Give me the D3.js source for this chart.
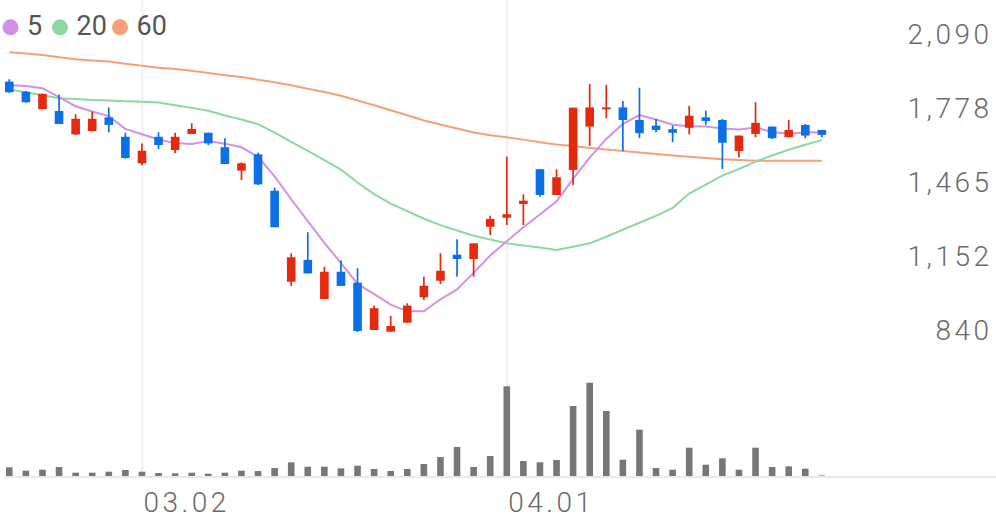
<!DOCTYPE html>
<html><head><meta charset="utf-8">
<script src="https://cdn.jsdelivr.net/npm/d3@7"></script>
<style>
body{margin:0;background:#fff;}
svg{display:block;font-family:Roboto,"Noto Sans",sans-serif;}
</style></head>
<body><svg id="c" width="996" height="519"></svg>
<script>
const dates = ["02.19","02.20","02.21","02.24","02.25","02.26","02.27","02.28","03.02","03.03","03.04","03.05","03.06","03.09","03.10","03.11","03.12","03.13","03.16","03.17","03.18","03.19","03.20","03.23","03.24","03.25","03.26","03.27","03.30","03.31","04.01","04.02","04.03","04.06","04.07","04.08","04.09","04.10","04.13","04.14","04.16","04.17","04.20","04.21","04.22","04.23","04.24","04.27","04.28","04.29"];
const openP  = [1965,1922,1849,1841,1742,1756,1814,1732,1620,1732,1676,1744,1749,1688,1589,1658,1504,1120,1212,1047,1162,1116,916,909,947,1054,1124,1234,1216,1352,1390,1448,1595,1486,1592,1775,1848,1856,1803,1779,1764,1770,1814,1803,1672,1744,1775,1730,1782,1761];
const highP  = [1975,1925,1915,1911,1827,1838,1856,1749,1704,1751,1749,1789,1750,1726,1624,1665,1517,1240,1329,1183,1209,1177,1019,976,1029,1141,1240,1299,1282,1399,1648,1489,1595,1595,1855,1955,1951,1883,1939,1807,1779,1863,1842,1807,1737,1878,1775,1803,1786,1761];
const lowP   = [1918,1876,1847,1786,1740,1754,1751,1640,1612,1680,1662,1744,1697,1617,1550,1528,1350,1102,1155,1047,1102,908,916,909,947,1043,1110,1141,1141,1317,1359,1359,1479,1486,1528,1693,1810,1672,1726,1751,1709,1742,1782,1596,1645,1730,1723,1730,1726,1730];
const closeP = [1920,1878,1913,1786,1808,1808,1782,1642,1673,1697,1732,1765,1704,1617,1620,1531,1350,1223,1155,1162,1102,912,1008,933,1019,1103,1166,1216,1282,1385,1405,1462,1486,1561,1855,1856,1856,1803,1747,1761,1749,1821,1799,1707,1737,1791,1726,1761,1737,1740];
const volume = [435,265,315,450,165,165,215,300,215,150,135,165,115,165,265,250,400,685,465,465,385,515,350,250,350,600,950,1450,450,1000,4485,750,685,800,3500,4665,3250,815,2315,400,315,1415,565,885,315,1415,450,485,365,65];
const ma5  = [1951,1946,1937,1899,1861,1838.6,1819.4,1765.2,1742.6,1720.4,1705.2,1701.8,1714.2,1703,1687.6,1647.4,1564.4,1468.2,1375.8,1284.2,1198.4,1110.8,1067.8,1023.4,994.8,995,1045.8,1087.4,1157.2,1230.4,1290.8,1350,1404,1459.8,1553.8,1644,1722.8,1786.2,1823.4,1804.6,1783.2,1776.2,1775.4,1767.4,1762.6,1771,1752,1744.4,1750.4,1751];
const ma20 = [1932,1920,1907,1895,1891,1887,1885,1882,1880,1877,1865,1854,1842,1822,1805,1785,1750,1710,1672,1633,1593,1539,1490,1450,1418,1386,1359,1336,1314,1298,1282,1273,1264,1254,1268,1282,1310,1340,1369,1398,1432,1492,1530,1568,1596,1627,1653,1677,1698,1718];
const ma60 = [2089,2084,2077,2068,2059,2054,2050,2040,2032,2023,2018,2011,2001,1992,1984,1973,1962,1950,1935,1921,1905,1885,1865,1844,1823,1801,1784,1767,1750,1738,1730,1720,1709,1699,1693,1685,1678,1672,1666,1659,1653,1648,1642,1637,1634,1631,1631,1631,1631,1631];
const priceTicks = [840, 1152.5, 1465, 1777.5, 2090];
const priceTickLabels = ["840","1,152","1,465","1,778","2,090"];
const dateTickLabels = ["03.02","04.01"];
const maPeriods = ["5","20","60"];

const C = {up:"#e5290d", down:"#0b6fe6", vol:"#777777", volLast:"#c4c4c4",
  ma:["#d390e8","#8bd8a2","#f6a07a"], grid:"#efefef", text:"#6a6a6a"};

const svg = d3.select("#c");
const W = 996;
const x = d3.scaleLinear().domain([-0.5, 59.5]).range([1, 996]);
const y = d3.scaleLinear().domain([840, 2090]).range([348, 52]);
const yv = d3.scaleLinear().domain([0, 5000]).range([476, 376]);

// horizontal price grid + labels
const gy = svg.append("g").attr("transform", `translate(${W},0)`)
  .call(d3.axisLeft(y).tickValues(priceTicks).tickSize(-(W-4))
    .tickFormat((d,i)=>priceTickLabels[i]));
gy.select(".domain").remove();
gy.selectAll(".tick line").attr("stroke", C.grid).attr("stroke-width", 2);
gy.selectAll(".tick text").attr("x", -3.5).attr("dy", -9).attr("text-anchor","end")
  .attr("fill", C.text).style("font-size","28px").style("letter-spacing","3.5px")
  .style("font-weight","300").style("font-family","Roboto, sans-serif");

// vertical date grid + labels
const idx = d3.range(dates.length);
const gx = svg.append("g").attr("transform", "translate(0,476)")
  .call(d3.axisBottom(x).tickValues(dateTickLabels.map(l=>dates.indexOf(l)))
    .tickSize(-476).tickFormat(i=>dates[i]));
gx.select(".domain").remove();
gx.selectAll(".tick line").attr("stroke", C.grid).attr("stroke-width", 2);
gx.selectAll(".tick text").attr("x", 1).attr("y", 36).attr("dy", 0).attr("text-anchor","start")
  .attr("fill", C.text).style("font-size","28px").style("letter-spacing","3.5px")
  .style("font-weight","300").style("font-family","Roboto, sans-serif");

// volume baseline
svg.append("line").attr("x1",4).attr("x2",W).attr("y1",477).attr("y2",477)
  .attr("stroke","#e8e8e8").attr("stroke-width",2);

// volume bars
svg.append("g").selectAll("rect").data(idx).join("rect")
  .attr("x", i=>x(i)-3.3).attr("width", 6.6)
  .attr("y", i=>yv(volume[i])).attr("height", i=>yv(0)-yv(volume[i]))
  .attr("fill", i=> i===dates.length-1 ? C.volLast : C.vol);

// moving averages
const line = d3.line().x((d,i)=>x(i)).y(d=>y(d));
[ma60, ma20, ma5].forEach((s,k)=>{
  svg.append("path").datum(s).attr("d", line).attr("fill","none")
    .attr("stroke", C.ma[2-k]).attr("stroke-width", 2);
});

// candles
const cg = svg.append("g").selectAll("g").data(idx).join("g");
const col = i => closeP[i] >= openP[i] ? C.up : C.down;
cg.append("line").attr("x1", i=>x(i)).attr("x2", i=>x(i))
  .attr("y1", i=>y(highP[i])).attr("y2", i=>y(lowP[i]))
  .attr("stroke", col).attr("stroke-width", 1.7);
cg.append("rect").attr("x", i=>x(i)-4.3).attr("width", 8.6)
  .attr("y", i=>y(Math.max(openP[i],closeP[i])))
  .attr("height", i=>Math.max(1.6, Math.abs(y(openP[i])-y(closeP[i]))))
  .attr("fill", col);

// legend
const lcx = [10.5, 60, 120];
const lg = svg.append("g").selectAll("g").data(maPeriods).join("g")
  .attr("transform",(d,i)=>`translate(${lcx[i]},27.3)`);
lg.append("circle").attr("r",8).attr("fill",(d,i)=>C.ma[i]);
lg.append("text").attr("x",16.5).attr("y",8).text(d=>d)
  .attr("fill","#555").style("font-size","27px");
</script>
</body></html>
